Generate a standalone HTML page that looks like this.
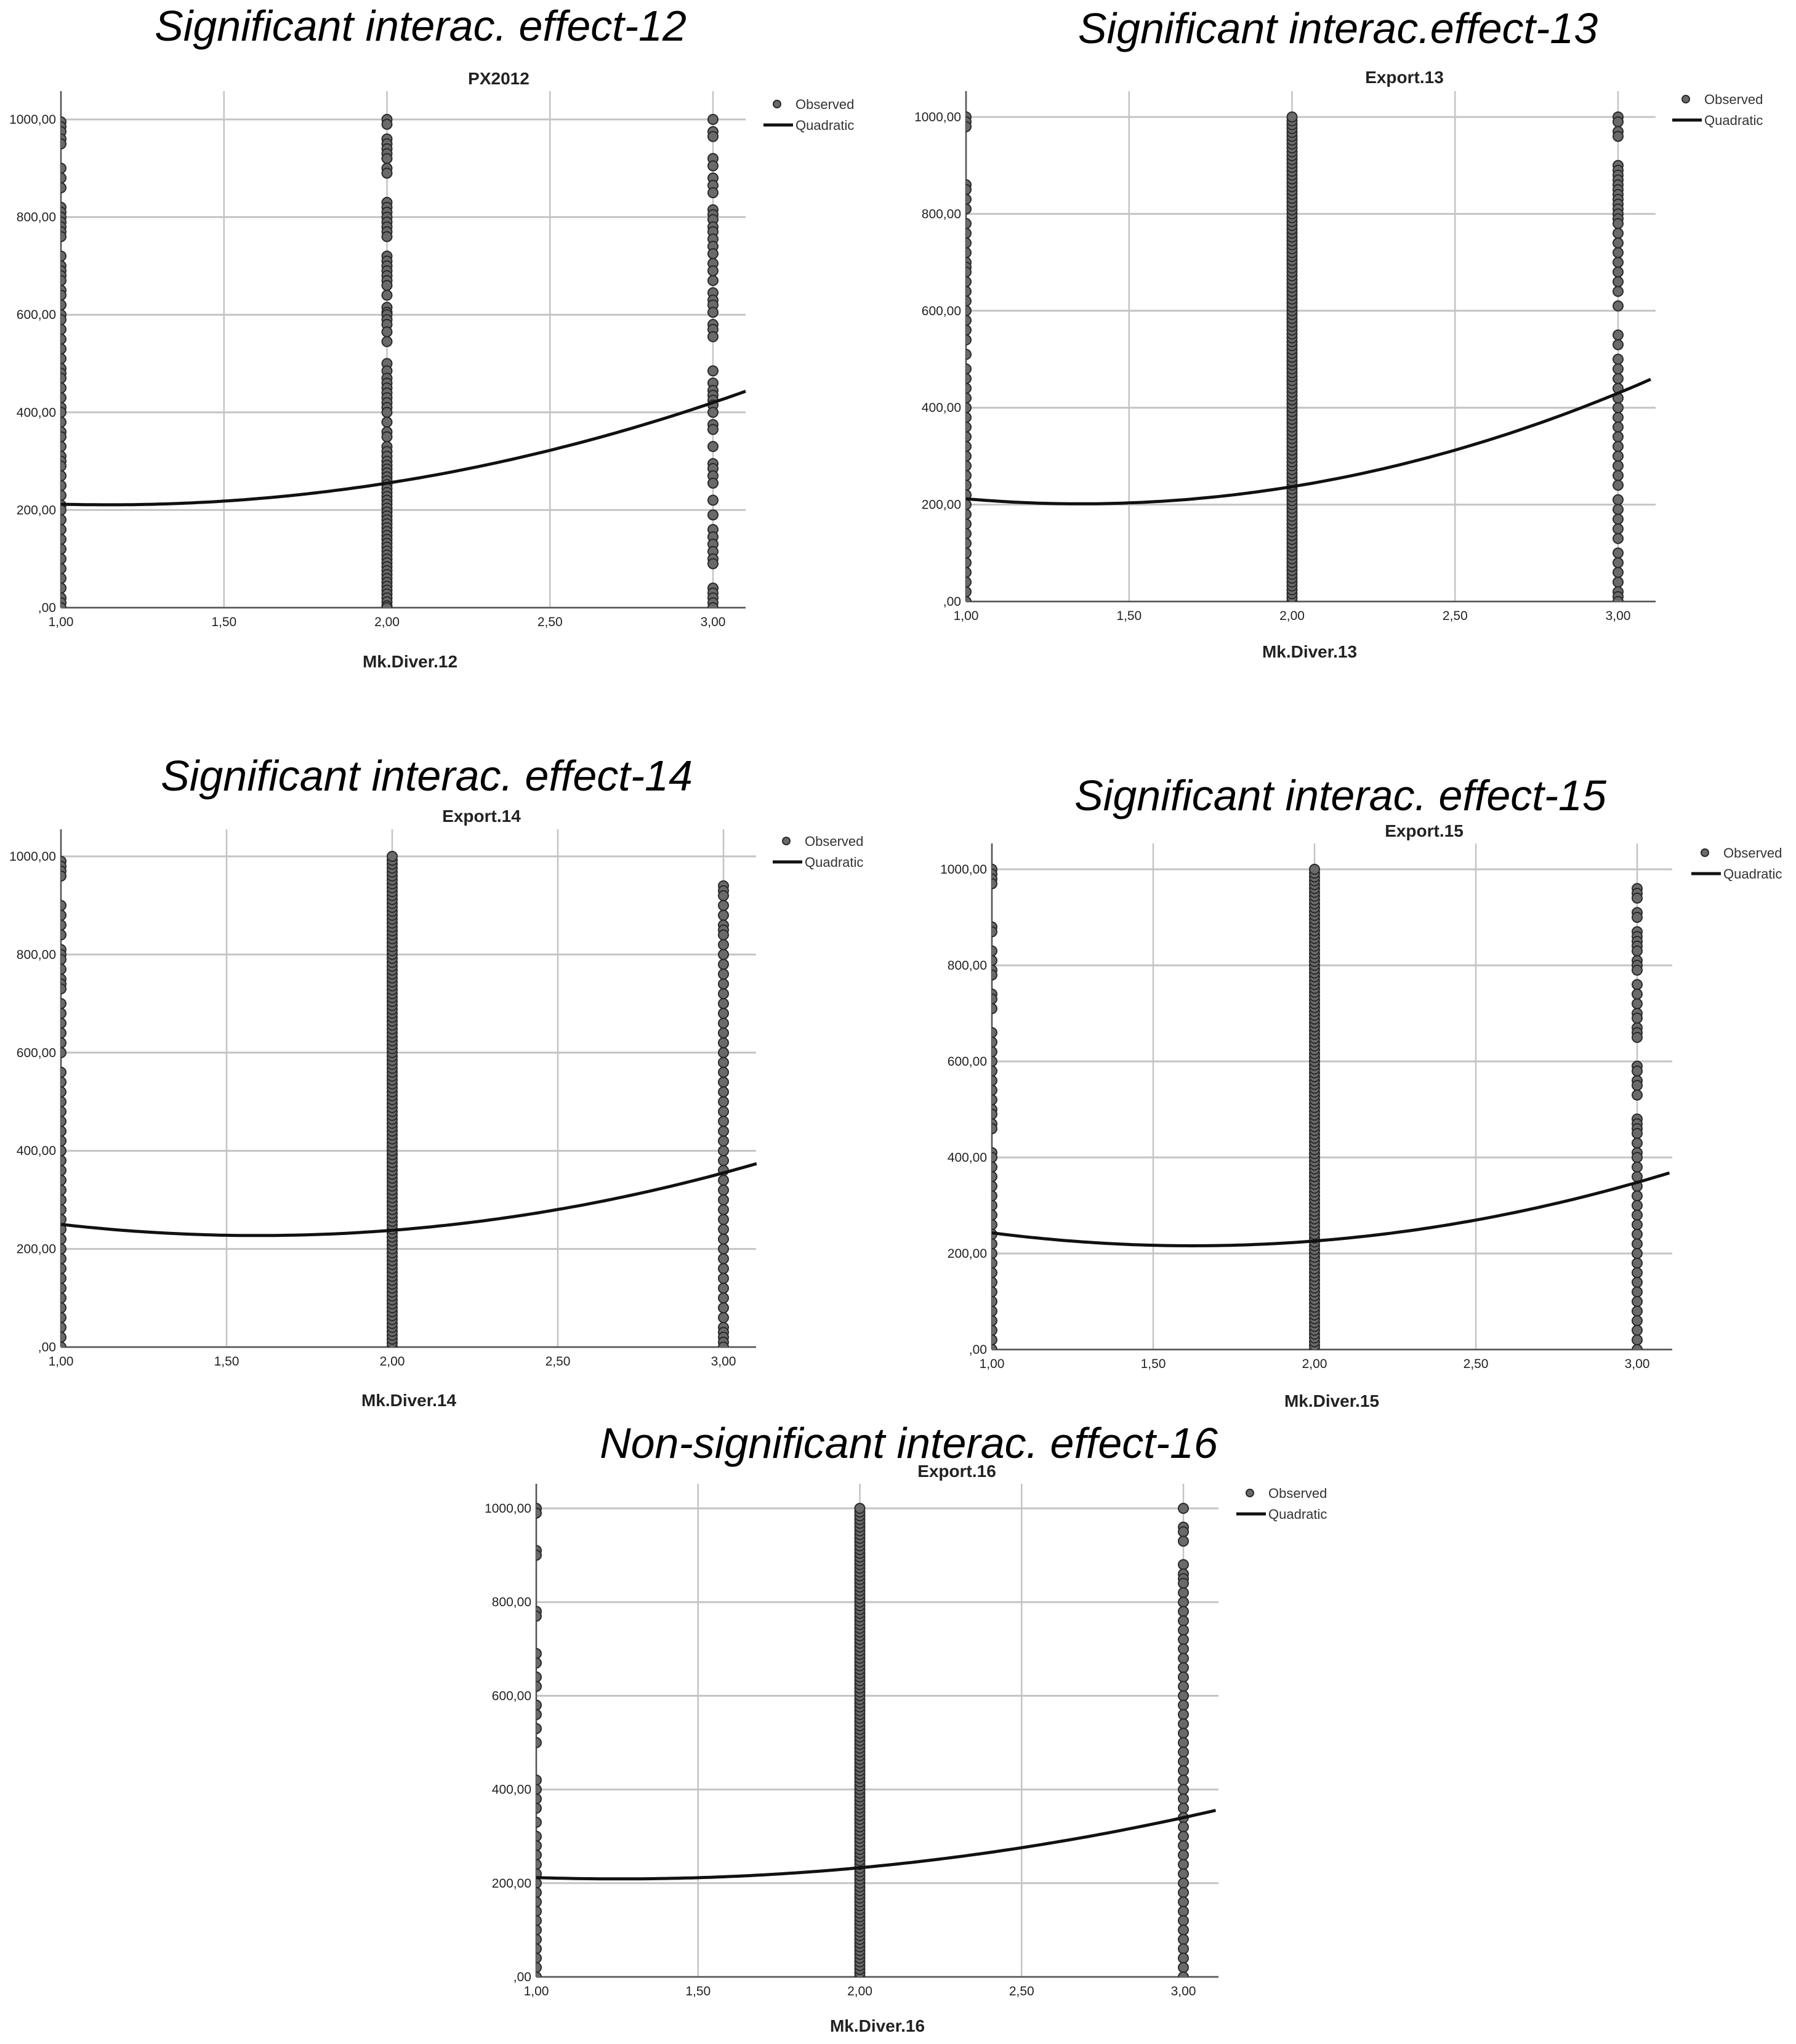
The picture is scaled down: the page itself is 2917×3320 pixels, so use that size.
<!DOCTYPE html>
<html><head><meta charset="utf-8">
<style>
html,body{margin:0;padding:0;background:#fff;}
svg{display:block;}
.tick{font-family:"Liberation Sans",sans-serif;font-size:21px;fill:#222;}
.ctitle{font-family:"Liberation Sans",sans-serif;font-size:28px;font-weight:bold;fill:#222;}
.xlab{font-family:"Liberation Sans",sans-serif;font-size:28px;font-weight:bold;fill:#222;}
.big{font-family:"Liberation Sans",sans-serif;font-style:italic;font-size:70px;fill:#000;}
.leg{font-family:"Liberation Sans",sans-serif;font-size:22px;fill:#333;}
</style></head>
<body>
<svg id="fig" width="2917" height="3320" viewBox="0 0 2917 3320" xmlns="http://www.w3.org/2000/svg"></svg>
<script>
// ---- data ----
const bigTitles = ["Significant interac. effect-12","Significant interac.effect-13","Significant interac. effect-14","Significant interac. effect-15","Non-significant interac. effect-16"];
const chartTitles = ["PX2012","Export.13","Export.14","Export.15","Export.16"];
const xLabels = ["Mk.Diver.12","Mk.Diver.13","Mk.Diver.14","Mk.Diver.15","Mk.Diver.16"];
const xTicks = [1,1.5,2,2.5,3];
const xTickLabels = ["1,00","1,50","2,00","2,50","3,00"];
const yTicks = [0,200,400,600,800,1000];
const yTickLabels = [",00","200,00","400,00","600,00","800,00","1000,00"];
// quadratic fit: y = a + b(x-1) + c(x-1)^2
const fitA = [212,212,250,243,212];
const fitB = [-18,-59,-76.5,-86.5,-22];
const fitC = [61,84,64.5,69.5,43];
const dense = "0,8,16,24,32,40,48,56,64,72,80,88,96,104,112,120,128,136,144,152,160,168,176,184,192,200,208,216,224,232,240,248,256,264,272,280,288,296,304,312,320,328,336,344,352,360,368,376,384,392,400,408,416,424,432,440,448,456,464,472,480,488,496,504,512,520,528,536,544,552,560,568,576,584,592,600,608,616,624,632,640,648,656,664,672,680,688,696,704,712,720,728,736,744,752,760,768,776,784,792,800,808,816,824,832,840,848,856,864,872,880,888,896,904,912,920,928,936,944,952,960,968,976,984,992,1000";
const obsX1 = [
 [995,985,975,960,950,900,880,860,820,810,800,790,780,770,760,720,700,690,680,670,650,640,620,600,590,570,550,530,510,490,480,470,450,430,410,400,380,360,350,330,310,300,290,270,250,230,210,200,180,160,140,120,100,80,60,40,20,10,0],
 [1000,990,980,860,850,830,810,780,760,740,720,700,690,680,660,640,620,600,580,560,540,510,480,460,440,420,400,380,360,340,320,300,280,260,240,220,200,180,160,140,120,100,80,60,40,20,0],
 [990,980,970,960,900,880,860,840,810,800,790,770,750,740,730,700,680,660,640,620,600,560,540,520,500,480,460,440,420,400,380,360,340,320,300,280,260,240,220,200,180,160,140,120,100,80,60,40,20,0],
 [1000,990,980,970,880,870,830,810,790,780,740,730,710,660,640,620,600,580,560,540,520,500,490,470,460,410,400,380,360,340,320,300,280,260,240,220,200,180,160,140,120,100,80,60,40,20,0],
 [1000,990,910,900,780,770,690,670,640,620,580,560,530,500,420,400,380,360,330,300,280,260,240,220,200,180,160,140,120,100,80,60,40,20,0]
];
const obsX2 = [
 [1000,990,960,950,940,930,920,900,890,830,820,810,800,790,780,770,760,720,710,700,690,680,670,660,640,615,605,600,590,580,565,545,500,485,470,460,450,440,430,420,410,400,380,360,350,330,320,310,300,292,284,276,268,260,252,244,236,228,220,212,204,196,188,180,172,164,156,148,140,132,124,116,108,100,92,84,76,68,60,52,44,36,28,20,12,4,0],
 dense.split(",").map(Number),
 dense.split(",").map(Number),
 dense.split(",").map(Number),
 dense.split(",").map(Number)
];
const obsX3 = [
 [1000,975,965,920,905,880,865,850,815,805,795,780,770,755,740,725,705,690,670,645,630,620,605,580,570,555,485,460,445,435,425,415,400,375,365,330,295,285,270,255,220,190,160,145,130,115,100,90,40,30,20,10,0],
 [1000,990,970,960,900,890,880,870,860,850,840,830,820,810,800,790,780,760,740,720,700,680,660,640,610,550,530,500,480,460,440,420,400,380,360,340,320,300,280,260,240,210,190,170,150,130,100,80,60,40,20,10,0],
 [940,930,920,900,880,860,850,840,820,800,780,760,740,720,700,680,660,640,620,600,580,560,540,520,500,480,460,440,420,400,380,360,340,320,300,280,260,240,220,200,180,160,140,120,100,80,60,40,30,20,10,0],
 [960,950,940,910,900,870,860,850,840,830,810,800,790,760,740,720,700,690,670,660,650,590,580,560,550,530,480,470,460,450,430,410,400,380,360,340,320,300,280,260,240,220,200,180,160,140,120,100,80,60,40,20,0],
 [1000,960,950,930,880,860,850,840,820,800,780,760,740,720,700,680,660,640,620,600,580,560,540,520,500,480,460,440,420,400,380,360,340,320,300,280,260,240,220,200,180,160,140,120,100,80,60,40,20,0]
];
// ---- layout (pixel geometry) ----
const L = [
 {l:99,r:1211,top:148,y0:987,y1000:194,x3:1158,bt:[683,42],ct:[810,127],leg:[1262,173],xl:[666,1084]},
 {l:1569,r:2689,top:148,y0:977,y1000:190,x3:2628,bt:[2173,46],ct:[2281,125],leg:[2738,165],xl:[2127,1068]},
 {l:99,r:1228,top:1347,y0:2188,y1000:1391,x3:1175,bt:[693,1260],ct:[782,1325],leg:[1277,1370],xl:[664,2284]},
 {l:1611,r:2716,top:1370,y0:2192,y1000:1412,x3:2659,bt:[2177,1292],ct:[2313,1349],leg:[2769,1389],xl:[2163,2285]},
 {l:871,r:1979,top:2410,y0:3211,y1000:2450,x3:1922,bt:[1476,2344],ct:[1554,2389],leg:[2030,2429],xl:[1425,3300]}
];
const NS="http://www.w3.org/2000/svg";
const fig=document.getElementById('fig');
function mk(tag,attrs,parent){const e=document.createElementNS(NS,tag);for(const k in attrs)e.setAttribute(k,attrs[k]);(parent||fig).appendChild(e);return e;}
L.forEach((g,i)=>{
  const grp=mk('g',{});
  
  
  const xs=v=>g.l+(v-1)*(g.x3-g.l)/2;
  const ys=v=>g.y0-v*(g.y0-g.y1000)/1000;
  const clip=mk('clipPath',{id:'clip'+i},grp);
  mk('rect',{x:g.l,y:g.top,width:g.r-g.l,height:g.y0-g.top},clip);
  const bt=mk('text',{x:g.bt[0],y:g.bt[1]+24,'text-anchor':'middle',class:'big'},grp);
  bt.textContent=bigTitles[i];
  
  
  const ct=mk('text',{x:g.ct[0],y:g.ct[1]+10,'text-anchor':'middle',class:'ctitle'},grp);
  ct.textContent=chartTitles[i];
  
  
  xTicks.forEach((t,k)=>{
    const ln=mk('line',{x1:xs(t),x2:xs(t),y1:g.top,y2:g.y0,stroke:'#c4c4c4','stroke-width':2.5},grp);
    
    
    const tl=mk('text',{x:xs(t),y:g.y0+30,'text-anchor':'middle',class:'tick'},grp);
    tl.textContent=xTickLabels[k];
    
    
  });
  yTicks.forEach((t,k)=>{
    const ln=mk('line',{x1:g.l,x2:g.r,y1:ys(t),y2:ys(t),stroke:'#c4c4c4','stroke-width':3},grp);
    
    
    const tl=mk('text',{x:g.l-8,y:ys(t)+7,'text-anchor':'end',class:'tick'},grp);
    tl.textContent=yTickLabels[k];
    
    
  });
  const ax=mk('line',{x1:g.l,x2:g.l,y1:g.top,y2:g.y0,stroke:'#555','stroke-width':2.5},grp);
  
  
  const bx=mk('line',{x1:g.l,x2:g.r,y1:g.y0,y2:g.y0,stroke:'#555','stroke-width':2.5},grp);
  
  
  const pg=mk('g',{'clip-path':'url(#clip'+i+')'},grp);
  
  
  [[1,obsX1[i]],[2,obsX2[i]],[3,obsX3[i]]].forEach(([xv,arr])=>{
    arr.forEach(v=>{
      const c=mk('circle',{cx:xs(xv),cy:ys(v),r:8,fill:'#6a6a6a',stroke:'#2a2a2a','stroke-width':2},pg);
      
      
    });
  });
  let d='';
  for(let k=0;k<=105;k++){const xv=1+k*0.02;const yv=fitA[i]+fitB[i]*(xv-1)+fitC[i]*(xv-1)*(xv-1);d+=(k?'L':'M')+xs(xv).toFixed(1)+','+ys(yv).toFixed(1);}
  const cv=mk('path',{d:d,fill:'none',stroke:'#111','stroke-width':5},grp);
  
  
  const lg=mk('g',{},grp);
  
  
  const ld=mk('circle',{cx:g.leg[0],cy:g.leg[1]-4,r:6,fill:'#6a6a6a',stroke:'#2a2a2a','stroke-width':2},lg);
  
  
  const lt=mk('text',{x:g.leg[0]+30,y:g.leg[1]+4,class:'leg'},lg);
  lt.textContent='Observed';
  
  
  const ll=mk('line',{x1:g.leg[0]-22,x2:g.leg[0]+26,y1:g.leg[1]+30,y2:g.leg[1]+30,stroke:'#111','stroke-width':5},lg);
  
  
  const lq=mk('text',{x:g.leg[0]+30,y:g.leg[1]+38,class:'leg'},lg);
  lq.textContent='Quadratic';
  
  
  const xl=mk('text',{x:g.xl[0],y:g.xl[1],'text-anchor':'middle',class:'xlab'},grp);
  xl.textContent=xLabels[i];
  
  
});
</script>
</body></html>
